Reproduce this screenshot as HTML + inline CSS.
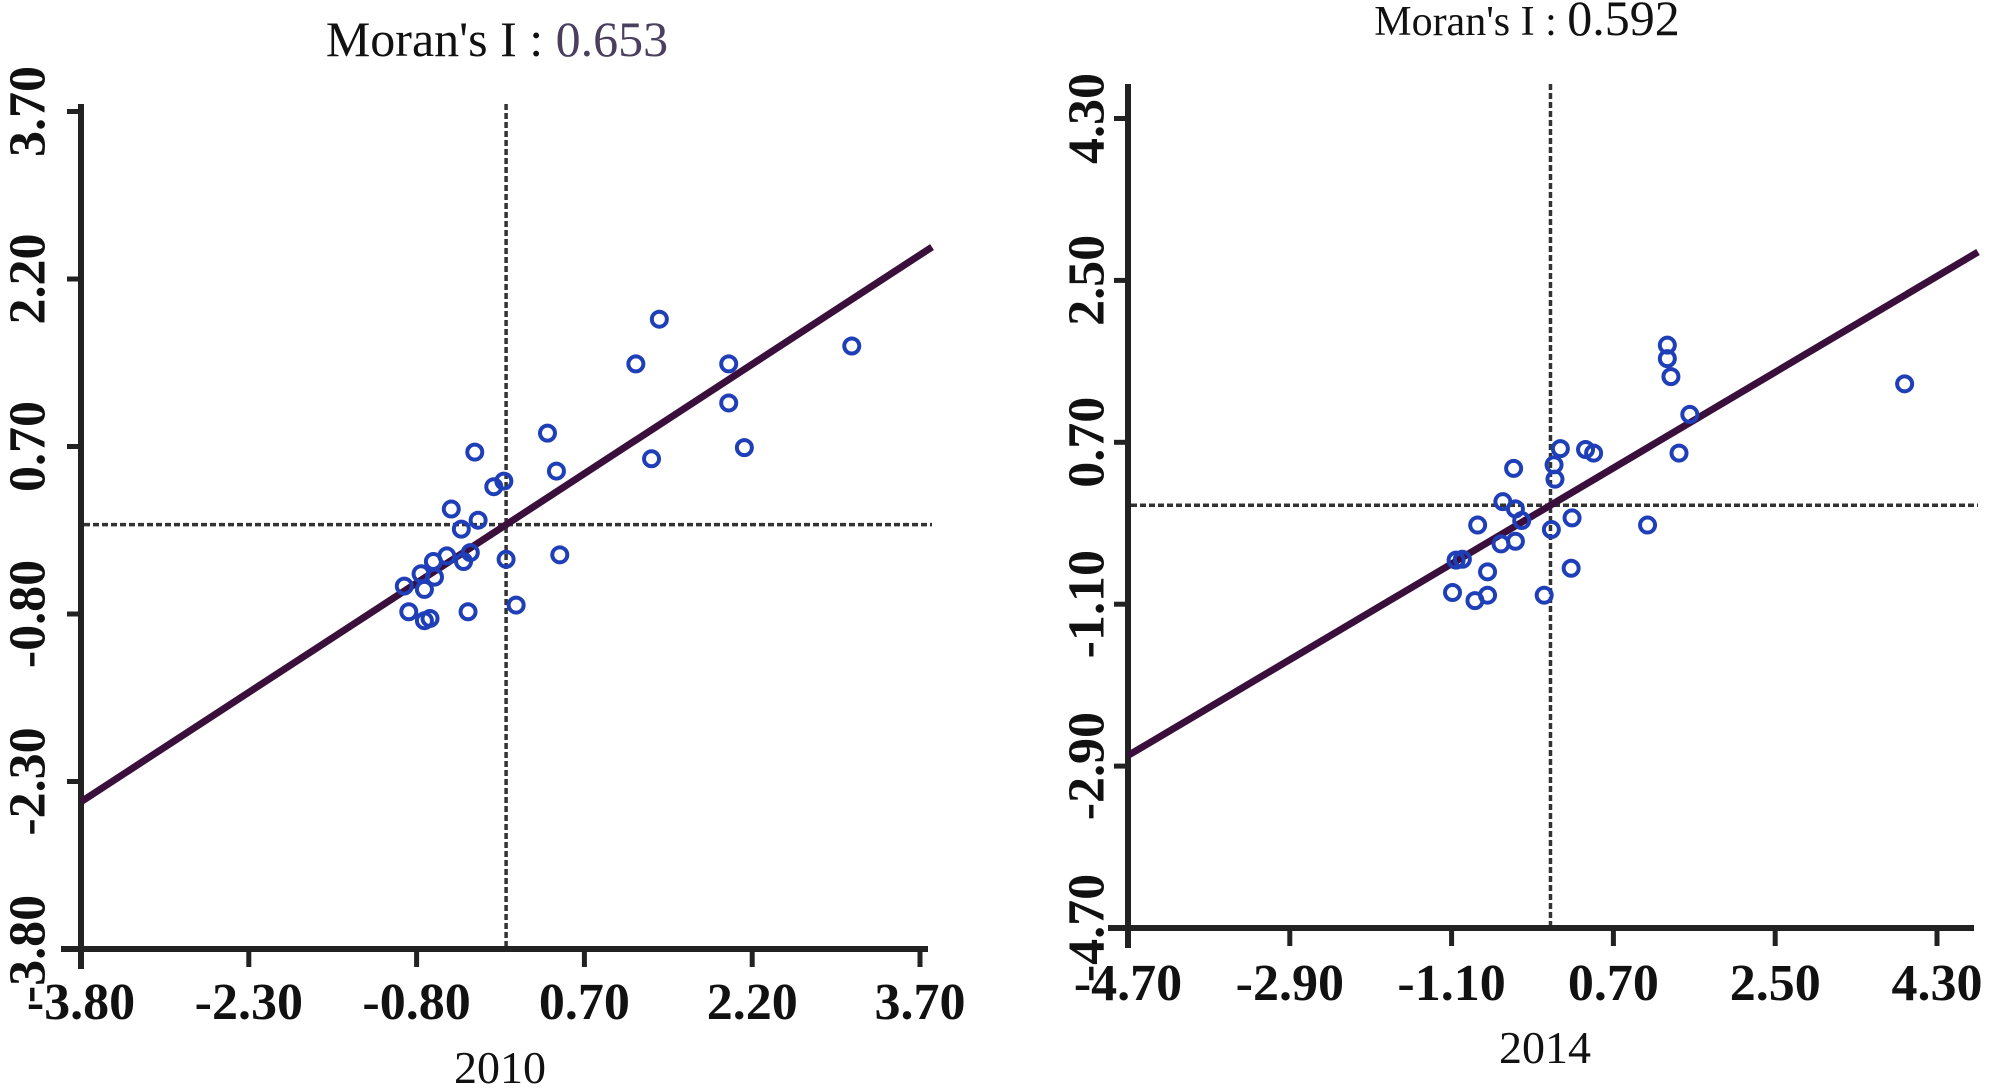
<!DOCTYPE html>
<html><head><meta charset="utf-8"><style>
html,body{margin:0;padding:0;background:#fff;}
svg{display:block;font-family:"Liberation Serif",serif;}
</style></head><body>
<svg id="chart" width="2000" height="1092" xmlns="http://www.w3.org/2000/svg">
<text x="497" y="56" font-size="50" text-anchor="middle" fill="#111">Moran's I : <tspan fill="#4a3f5f">0.653</tspan></text>
<text x="1527" y="35" font-size="42" text-anchor="middle" fill="#111">Moran's I : <tspan font-size="50">0.592</tspan></text>
<text x="500" y="1083" font-size="46" text-anchor="middle" fill="#111">2010</text>
<text x="1545" y="1063" font-size="46" text-anchor="middle" fill="#111">2014</text>
</svg>
<script>
const ticks2010 = [-3.8, -2.3, -0.8, 0.7, 2.2, 3.7];
const xs2010 = [1.37,1.16,1.99,3.09,1.99,2.13,1.30,0.37,0.45,-0.28,-0.11,-0.02,-0.49,-0.25,-0.40,0.00,0.48,0.09,-0.34,-0.87,-0.68,-0.73,-0.38,-0.32,-0.53,-0.65,-0.64,-0.76,-0.73,-0.91];
const ys2010 = [1.84,1.44,1.44,1.60,1.09,0.69,0.59,0.82,0.48,0.65,0.34,0.39,0.14,0.04,-0.04,-0.31,-0.27,-0.72,-0.78,-0.78,-0.84,-0.86,-0.33,-0.25,-0.28,-0.33,-0.47,-0.44,-0.58,-0.55];
const slope2010 = 0.653;
const ticks2014 = [-4.7, -2.9, -1.1, 0.7, 2.5, 4.3];
const xs2014 = [1.30,1.30,1.34,3.94,1.55,1.43,0.11,0.39,0.48,-0.41,0.04,0.05,-0.53,-0.39,-0.32,-0.81,0.24,1.08,0.01,-0.55,-0.39,-0.98,-1.05,-0.70,0.23,-1.09,-0.84,-0.70,-0.07];
const ys2014 = [1.78,1.63,1.43,1.35,1.01,0.58,0.63,0.62,0.58,0.41,0.45,0.29,0.04,-0.04,-0.17,-0.22,-0.14,-0.22,-0.27,-0.43,-0.40,-0.60,-0.61,-0.74,-0.70,-0.97,-1.06,-1.00,-1.00];
const slope2014 = 0.592;

const svg = document.getElementById('chart');
const NS = 'http://www.w3.org/2000/svg';
function mk(tag, attrs){const e=document.createElementNS(NS,tag);for(const k in attrs)e.setAttribute(k,attrs[k]);svg.appendChild(e);return e;}

function panel(cfg, ticks, xs, ys, slope, id){
  const min=ticks[0], max=ticks[ticks.length-1];
  const sx=v=>cfg.x0+(v-min)/(max-min)*(cfg.x1-cfg.x0);
  const sy=v=>cfg.y0-(v-min)/(max-min)*(cfg.y0-cfg.y1);
  let e=mk('line',{x1:sx(0),x2:sx(0),y1:cfg.top,y2:cfg.y0,stroke:'#333','stroke-width':3.5,'stroke-dasharray':'6,3'});
  
  
  e=mk('line',{x1:cfg.x0+3,x2:cfg.right,y1:sy(0),y2:sy(0),stroke:'#333','stroke-width':3.5,'stroke-dasharray':'6,3'});
  
  
  e=mk('line',{x1:cfg.x0,x2:cfg.x0,y1:cfg.top,y2:cfg.y0+20,stroke:'#222','stroke-width':6});
  
  
  e=mk('line',{x1:cfg.x0-20,x2:cfg.right-4,y1:cfg.y0,y2:cfg.y0,stroke:'#222','stroke-width':6});
  
  
  ticks.forEach(t=>{
    let l=mk('line',{x1:sx(t),x2:sx(t),y1:cfg.y0,y2:cfg.y0+18,stroke:'#222','stroke-width':5});
    
    
    let tx=mk('text',{x:sx(t),y:cfg.xlab,'font-size':52,'font-weight':'bold','text-anchor':'middle',fill:'#111'});
    tx.textContent=t.toFixed(2);
    
    
    l=mk('line',{x1:cfg.x0-14,x2:cfg.x0,y1:sy(t),y2:sy(t),stroke:'#222','stroke-width':5});
    
    
    const yy=sy(t);
    let ty=mk('text',{x:cfg.ylab,y:yy,'font-size':52,'font-weight':'bold','text-anchor':'middle','dominant-baseline':'central',fill:'#111',transform:`rotate(-90 ${cfg.ylab} ${yy})`});
    ty.textContent=t.toFixed(2);
    
    
  });
  const xe=min+(cfg.right-cfg.x0)/(cfg.x1-cfg.x0)*(max-min);
  e=mk('line',{x1:sx(min),y1:sy(slope*min),x2:sx(xe),y2:sy(slope*xe),stroke:'#3a0f3c','stroke-width':7});
  
  
  xs.forEach((x,i)=>{
    const c=mk('circle',{cx:sx(x),cy:sy(ys[i]),r:7.5,fill:'none',stroke:'#1e3fb8','stroke-width':4});
    
    
  });
}
panel({x0:81,x1:920,y0:949,y1:111.5,top:104,right:932,xlab:1019,ylab:28}, ticks2010, xs2010, ys2010, slope2010, 'panel-2010');
panel({x0:1128,x1:1937,y0:928,y1:118.5,top:84,right:1978,xlab:1000,ylab:1087}, ticks2014, xs2014, ys2014, slope2014, 'panel-2014');
</script>
</body></html>
